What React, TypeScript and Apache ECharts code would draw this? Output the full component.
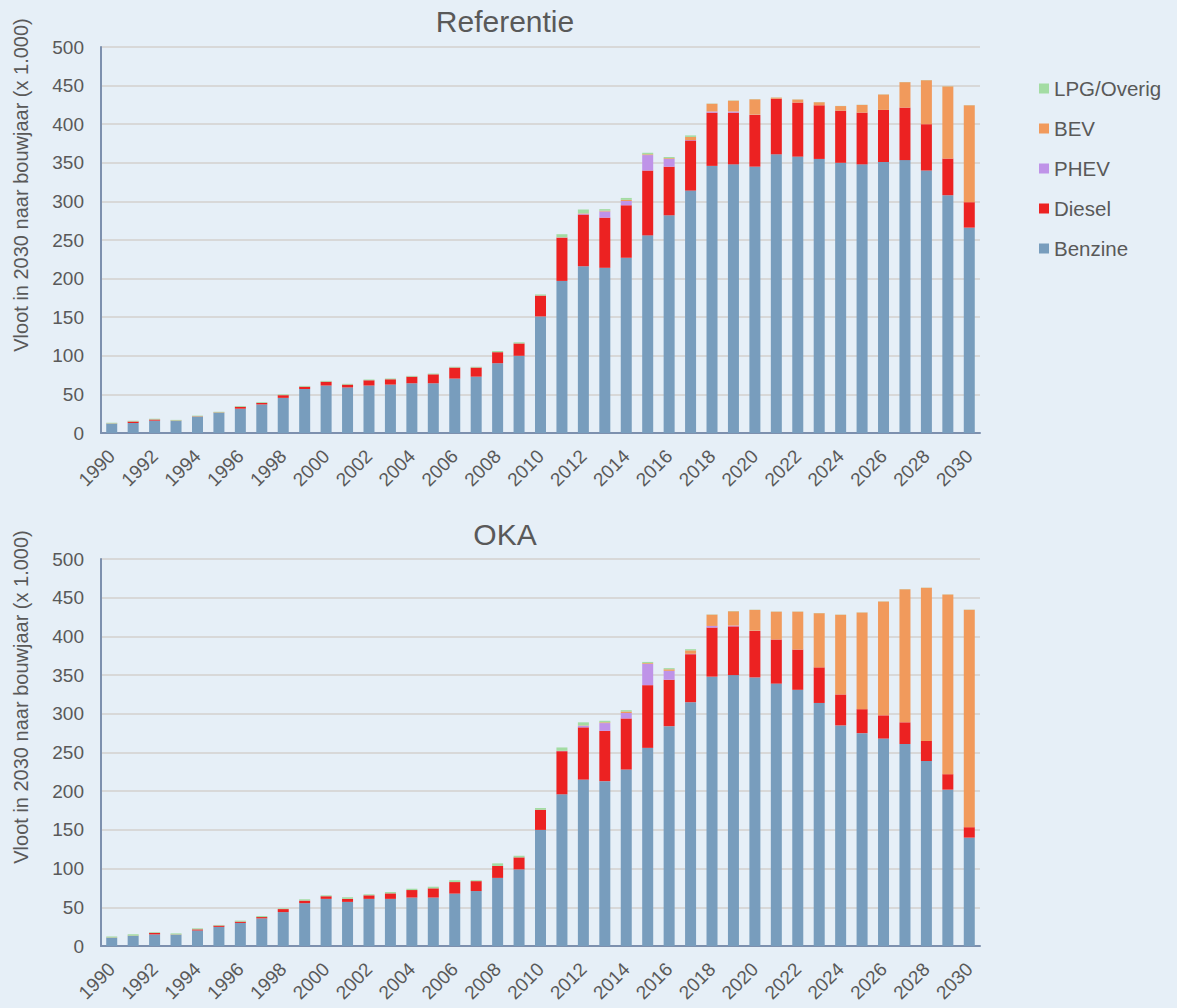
import React, { useEffect, useRef } from "react";
import * as echarts from "echarts";

const years: string[] = [];
for (let y = 1990; y <= 2030; y++) years.push(String(y));

// Referentie
const refBenzine = [12, 13, 16, 15.5, 21, 26, 31.5, 37, 45.5, 57, 61.5, 59, 61.5, 62.7, 64.4, 64.4, 70.5, 73, 90.4, 100, 151, 197, 216, 214, 227, 256, 282, 314, 346, 348, 345, 361, 358, 355, 350, 348, 351, 353.5, 340, 308, 266];
const refDiesel = [0.3, 2, 1.5, 0.5, 0.5, 0.5, 2.5, 2, 3.5, 3, 5, 3.7, 6.8, 6.9, 8.6, 11.6, 14.3, 11.8, 14.3, 16, 27, 56, 67, 65, 68, 84, 63, 65, 69, 67, 67, 72, 70, 69.5, 67.5, 67, 67.5, 68, 60, 47.5, 33];
const refPHEV = [0, 0, 0, 0, 0, 0, 0, 0, 0, 0, 0, 0, 0, 0, 0, 0, 0, 0, 0, 0, 0, 0.3, 1, 8, 5.5, 20, 10, 0.5, 1.5, 1.5, 0.3, 0, 0, 0, 0, 0, 0, 0, 0, 0, 0];
const refBEV = [0, 0, 0, 0, 0, 0, 0, 0, 0, 0, 0, 0, 0, 0, 0, 0, 0, 0, 0, 0, 0, 0.2, 0.5, 1, 1.5, 1, 1, 4, 10, 14, 20, 1.5, 4, 4, 6, 10, 20, 33, 57, 93.5, 125.5];
const refLPG = [1, 1, 1, 1, 1, 1, 1, 1, 1, 1, 1, 1, 1, 1, 1, 1, 1, 1, 1.5, 1.5, 1.5, 4, 5, 2, 2.5, 2, 1.5, 2, 0.3, 0.3, 0.2, 0.2, 0.2, 0.2, 0.2, 0.2, 0.2, 0.2, 0.2, 0.2, 0.2];

// OKA
const okaBenzine = [10.5, 13, 15, 14.5, 20, 24.7, 29.8, 35.7, 43.8, 55.3, 60.9, 57, 60.9, 60.9, 62.6, 62.6, 67.7, 71, 88, 99, 150, 196, 215, 213, 228, 256, 284, 315, 348, 350, 347, 339, 331, 314, 285, 275, 268, 261, 239, 202, 140];
const okaDiesel = [0.3, 0.3, 2, 0.3, 1.5, 1.7, 1.7, 1.7, 3.9, 3.4, 3.4, 3.9, 4.6, 7.1, 9.7, 11.9, 14.9, 12.8, 15.4, 15.5, 26, 55.7, 67.5, 65, 66, 81, 60, 62, 63.5, 63, 60, 57, 52, 46, 40, 31, 30, 28, 26, 20, 13.5];
const okaPHEV = [0, 0, 0, 0, 0, 0, 0, 0, 0, 0, 0, 0, 0, 0, 0, 0, 0, 0, 0, 0, 0, 0.3, 2, 10, 7, 27.5, 11.5, 0.5, 2, 1, 0.3, 0, 0, 0, 0, 0, 0, 0, 0, 0, 0];
const okaBEV = [0, 0, 0, 0, 0, 0, 0, 0, 0, 0, 0, 0, 0, 0, 0, 0, 0, 0, 0, 0, 0, 0.2, 0.5, 1, 2, 1, 2, 4.5, 14.6, 18.5, 27, 36, 49, 70, 103, 125, 147, 172, 198, 232, 281];
const okaLPG = [1.5, 1.9, 0.9, 1.5, 1.3, 0.8, 1.3, 1.3, 0.8, 1.7, 1.2, 2.1, 1.3, 1.8, 1.7, 2.1, 2.4, 1.2, 3.4, 2.1, 2.3, 4.3, 4, 2, 1.7, 1.5, 1.5, 1.5, 0.3, 0.3, 0.2, 0.2, 0.2, 0.2, 0.2, 0.2, 0.2, 0.2, 0.2, 0.2, 0.2];

const seriesNames = ["Benzine", "Diesel", "PHEV", "BEV", "LPG/Overig"];
const legendOrder = ["LPG/Overig", "BEV", "PHEV", "Diesel", "Benzine"];
const chartTitles = ["Referentie", "OKA"];
const yAxisTitle = "Vloot in 2030 naar bouwjaar (x 1.000)";
const yTicks = { min: 0, max: 500, interval: 50 };

const colors: Record<string, string> = {
  Benzine: "#789dbd",
  Diesel: "#ec2222",
  PHEV: "#bf93e8",
  BEV: "#f19a5c",
  "LPG/Overig": "#a3dca3",
};

const FONT = "Arial, 'Liberation Sans', Helvetica, sans-serif";
const TEXT = "#595959";

export default function App() {
  const ref = useRef<HTMLDivElement>(null);
  useEffect(() => {
    if (!ref.current) return;
    const chart = echarts.init(ref.current, undefined, { renderer: "svg" });
    const refData = [refBenzine, refDiesel, refPHEV, refBEV, refLPG];
    const okaData = [okaBenzine, okaDiesel, okaPHEV, okaBEV, okaLPG];

    const grids = [
      { left: 101, top: 47, width: 879, height: 386 },
      { left: 101, top: 559, width: 879, height: 387 },
    ];

    const xAxis = [0, 1].map((i) => ({
      type: "category",
      gridIndex: i,
      data: years,
      axisLine: { lineStyle: { color: "#7d90ae", width: 2 } },
      axisTick: { show: false },
      axisLabel: {
        interval: 1,
        rotate: 45,
        fontSize: 19,
        color: TEXT,
        fontFamily: FONT,
        margin: 20,
      },
    }));

    const yAxis = [0, 1].map((i) => ({
      type: "value",
      gridIndex: i,
      ...yTicks,
      axisLine: { show: true, lineStyle: { color: "#7d90ae", width: 2 } },
      axisTick: { show: false },
      axisLabel: { fontSize: 19, color: TEXT, fontFamily: FONT, margin: 17 },
      splitLine: { lineStyle: { color: "#d8d8d8", width: 2 } },
    }));

    const series: any[] = [];
    [refData, okaData].forEach((dataSet, gi) => {
      seriesNames.forEach((name, si) => {
        series.push({
          type: "bar",
          name,
          xAxisIndex: gi,
          yAxisIndex: gi,
          stack: "s" + gi,
          barWidth: 11,
          data: dataSet[si],
          itemStyle: { color: colors[name] },
        });
      });
    });

    const titleTops = [1, 514];
    const nameCenters = [185, 697];

    chart.setOption({
      animation: false,
      backgroundColor: "#e6eff7",
      textStyle: { fontFamily: FONT },
      title: chartTitles.map((t, i) => ({
        text: t,
        left: 500,
        top: titleTops[i],
        textAlign: "center",
        textStyle: { fontSize: 30, fontWeight: "normal", color: TEXT, fontFamily: FONT },
      })),
      legend: {
        orient: "vertical",
        left: 1034,
        top: 73,
        data: legendOrder,
        icon: "rect",
        itemWidth: 10,
        itemHeight: 10,
        itemGap: 19,
        textStyle: { fontSize: 20.5, color: TEXT, fontFamily: FONT, lineHeight: 18 },
      },
      grid: grids,
      xAxis,
      yAxis,
      series,
      graphic: nameCenters.map((cy) => ({
        type: "text",
        x: 21,
        y: cy,
        rotation: Math.PI / 2,
        style: {
          text: yAxisTitle,
          fontSize: 20,
          fill: TEXT,
          fontFamily: FONT,
          align: "center",
          verticalAlign: "middle",
        },
      })),
    });
    return () => chart.dispose();
  }, []);
  return (
    <div
      ref={ref}
      style={{ position: "absolute", left: 0, top: 0, width: 1177, height: 1008 }}
    />
  );
}
